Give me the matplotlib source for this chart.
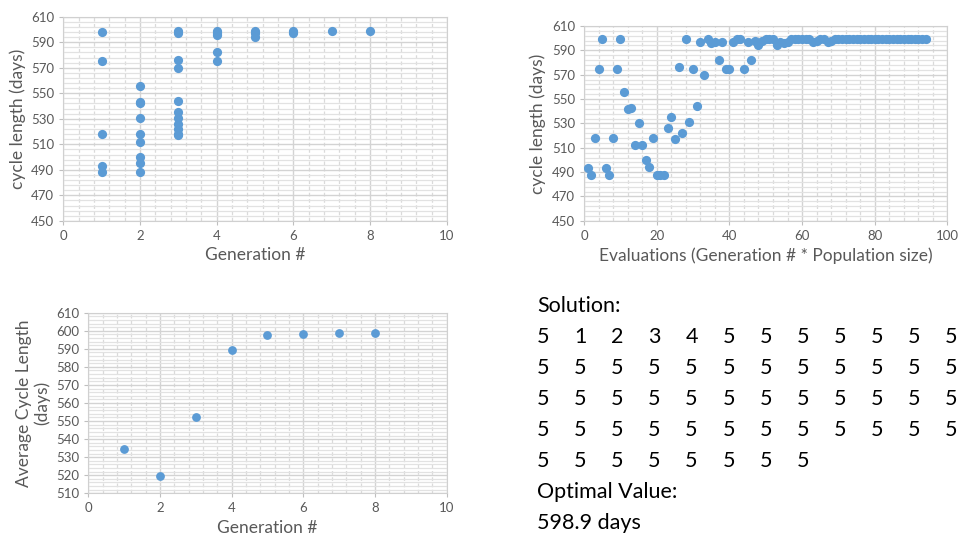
import matplotlib
matplotlib.use("Agg")
import matplotlib.pyplot as plt
from matplotlib.ticker import MultipleLocator, FixedLocator

plt.rcParams['font.family'] = ['Lato', 'DejaVu Sans']

# ---- Data ----
gen_x = [1]*5 + [2]*9 + [3]*11 + [4]*5 + [5]*3 + [6]*2 + [7] + [8]
gen_y = [598, 575, 518, 493, 488,
         556, 543, 542, 531, 518, 512, 500, 495, 488,
         599, 597, 576, 570, 544, 535, 531, 526, 522, 518, 517,
         599, 597, 596, 582, 575,
         599, 597, 594.5,
         599, 597,
         598.9,
         598.9]

eval_y = [493, 488, 518, 575, 599, 493, 488, 518, 575, 599,
          556, 542, 543, 512, 530, 512, 500, 494, 518, 488,
          488, 488, 526, 535, 517, 576, 522, 599, 531, 575,
          544, 597, 570, 599.5, 596, 597, 582, 597, 575, 575,
          597, 599, 599.5, 575, 597, 582, 598, 594, 598, 599,
          599, 599, 594.5, 597, 596, 597, 599, 599, 599, 599,
          599, 599, 597, 598, 599, 599, 597, 598, 599, 599,
          599, 599, 599, 599, 599, 599, 599, 599, 599, 599,
          599, 599, 599, 599, 599, 599, 599, 599, 599, 599,
          599, 599, 599, 599]
eval_x = list(range(1, len(eval_y) + 1))

avg_gen = [1, 2, 3, 4, 5, 6, 7, 8]
avg_len = [534.7, 519.5, 552.0, 589.5, 597.5, 598.4, 598.9, 598.9]

solution = [5, 1, 2, 3, 4] + [5]*51
optimal_value = 598.9

BLUE = '#5B9BD5'
TICK = '#595959'

fig = plt.figure(figsize=(9.59, 5.40), dpi=100)


def style(ax, xmax, xmaj, xmin_n, ymin, ymax, ymaj, ymin_step):
    ax.set_xlim(0, xmax)
    ax.set_ylim(ymin, ymax)
    ax.xaxis.set_major_locator(MultipleLocator(xmaj))
    ax.xaxis.set_minor_locator(MultipleLocator(xmaj / xmin_n))
    yt = list(range(ymin, ymax + 1, ymaj))
    ax.yaxis.set_major_locator(FixedLocator(yt))
    ax.yaxis.set_minor_locator(FixedLocator(
        [v for v in range(ymin, ymax + 1, ymin_step) if v not in yt]))
    ax.grid(which='major', color='#d3d3d3', lw=1.0)
    ax.grid(which='minor', axis='y', color='#e2e2e2', lw=0.9)
    ax.grid(which='minor', axis='x', color='#dadada', lw=0.9, ls=(0, (3, 2)))
    ax.set_axisbelow(True)
    for s in ax.spines.values():
        s.set_color('#d0d0d0')
    ax.tick_params(which='major', colors='#bfbfbf', labelcolor=TICK,
                   labelsize=9.5, length=3)
    ax.tick_params(which='minor', length=0)


ax1 = fig.add_axes([0.066, 0.591, 0.400, 0.378])
style(ax1, 10, 2, 5, 450, 610, 20, 4)
ax1.scatter(gen_x, gen_y, s=44, color=BLUE, zorder=3, linewidths=0)
ax1.set_xlabel('Generation #', fontsize=12.5, color=TICK)
ax1.set_ylabel('cycle length (days)', fontsize=12.5, color=TICK)

ax2 = fig.add_axes([0.609, 0.591, 0.379, 0.361])
style(ax2, 100, 20, 5, 450, 610, 20, 4)
ax2.scatter(eval_x, eval_y, s=44, color=BLUE, zorder=3, linewidths=0)
ax2.set_xlabel('Evaluations (Generation # * Population size)', fontsize=12.5, color=TICK)
ax2.set_ylabel('cycle length (days)', fontsize=12.5, color=TICK)

ax3 = fig.add_axes([0.092, 0.0865, 0.3737, 0.3344])
style(ax3, 10, 2, 5, 510, 610, 10, 2)
ax3.scatter(avg_gen, avg_len, s=40, color=BLUE, zorder=3, linewidths=0)
ax3.set_xlabel('Generation #', fontsize=12.5, color=TICK)
ax3.set_ylabel('Average Cycle Length\n(days)', fontsize=12.5, color=TICK,
               linespacing=1.15)

# ---- Text block ----
fs = 15.5
x0 = 537 / 959
col_w = 37.05 / 959
row_h = 31.0 / 540
y_top = 1 - 306 / 540
fig.text(x0, y_top, 'Solution:', fontsize=fs, va='center', ha='left', color='black')
ncol = 12
for i, v in enumerate(solution):
    r, c = divmod(i, ncol)
    fig.text((543.3 / 959) + c * col_w, y_top - (r + 1) * row_h, str(v),
             fontsize=fs, va='center', ha='center', color='black')
nrows = (len(solution) + ncol - 1) // ncol
fig.text(x0, y_top - (nrows + 1) * row_h, 'Optimal Value:', fontsize=fs,
         va='center', ha='left', color='black')
fig.text(x0, y_top - (nrows + 2) * row_h, f'{optimal_value} days', fontsize=fs,
         va='center', ha='left', color='black')

fig.savefig('out.png', dpi=100)
